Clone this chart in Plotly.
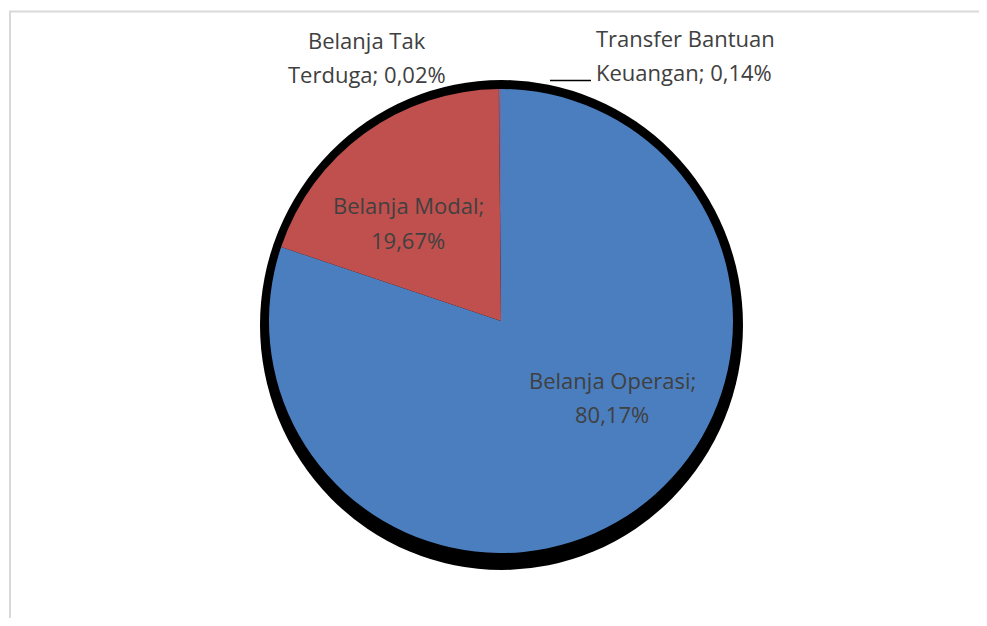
import plotly.graph_objects as go

# ---- data ----
labels = ["Belanja Operasi", "Belanja Modal", "Belanja Tak Terduga", "Transfer Bantuan Keuangan"]
values = [80.17, 19.67, 0.02, 0.14]
colors = ["#4a7ebf", "#c0504d", "#9bbb59", "#8064a2"]

# figure size (page body adds an 8px margin)
OFF = 8
W, H = 979, 610

def px(x):
    return (x - OFF) / W

def py(y):
    return (H - (y - OFF)) / H

# pie geometry (window pixels)
cx, cy, r = 501, 321, 232

fig = go.Figure()
fig.add_trace(go.Pie(
    labels=labels,
    values=values,
    sort=False,
    direction="clockwise",
    rotation=0,
    marker=dict(colors=colors, line=dict(width=0)),
    textinfo="none",
    showlegend=False,
    domain=dict(x=[px(cx - r), px(cx + r)], y=[py(cy + r), py(cy - r)]),
))

def fmt(v):
    return f"{v:.2f}".replace(".", ",") + "%"

# label line positions (layout): (x, y of line1, y of line2, xanchor)
label_pos = [
    (612, 380, 414, "center"),
    (408, 205, 240, "center"),
    (367, 40, 74, "center"),
    (594, 38, 72, "left"),
]

annotations = []
for lab, val, (x, y1, y2, xa) in zip(labels, values, label_pos):
    words = f"{lab}; {fmt(val)}".split(" ")
    lines = [" ".join(words[:2]), " ".join(words[2:])]
    for txt, yy in zip(lines, (y1, y2)):
        annotations.append(dict(
            x=px(x), y=py(yy), xref="paper", yref="paper",
            text=txt, showarrow=False, xanchor=xa, yanchor="middle",
            font=dict(family="Open Sans", size=22, color="#404040"),
        ))

shapes = [
    # chart frame
    dict(type="rect", xref="paper", yref="paper",
         x0=px(10), x1=1.1, y0=-0.1, y1=py(11.5),
         line=dict(color="#d9d9d9", width=2), layer="below"),
    # shadow behind the pie
    dict(type="circle", xref="paper", yref="paper",
         x0=px(260), x1=px(743), y0=py(570), y1=py(80),
         fillcolor="black", line=dict(width=0), layer="below"),
    # leader line for small slice label
    dict(type="line", xref="paper", yref="paper",
         x0=px(550), x1=px(591), y0=py(80.5), y1=py(80.5),
         line=dict(color="black", width=1.5)),
]

fig.update_layout(
    width=W, height=H,
    margin=dict(l=0, r=0, t=0, b=0),
    paper_bgcolor="white",
    plot_bgcolor="white",
    annotations=annotations,
    shapes=shapes,
)

fig.write_html("out.html")
